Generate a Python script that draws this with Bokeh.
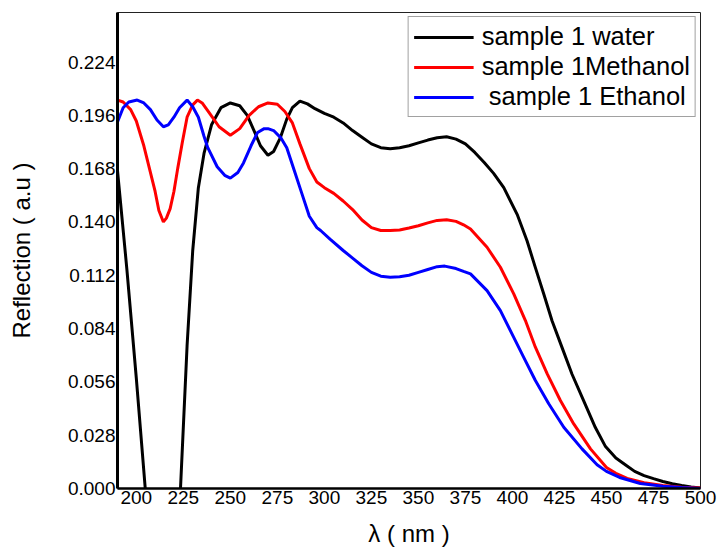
from bokeh.plotting import figure
from bokeh.models import FixedTicker, PrintfTickFormatter, Range1d
from bokeh.embed import file_html
from bokeh.resources import INLINE

# ---- data ----
water_x = [190, 195, 200, 205, 210, 214, 218, 223.5, 227, 230, 233, 236, 240, 245, 250, 255, 259, 263,
           266, 270, 273, 276.5, 280, 283, 287, 291, 295, 300, 305, 310, 315, 320, 325, 330, 335, 340,
           345, 350, 355, 360, 365, 370, 375, 380, 385, 390, 395.4, 402.5, 407.8, 412.2, 416.7, 421.1,
           426.4, 431.7, 437.9, 444.1, 449.5, 455, 460, 465, 470, 475, 480, 485, 490, 495, 500]
water_y = [0.167, 0.115, 0.058, -0.003, -0.07, -0.09, -0.07, 0.000, 0.075, 0.125, 0.158, 0.176, 0.191,
           0.200, 0.2025, 0.201, 0.196, 0.187, 0.180, 0.175, 0.177, 0.184, 0.194, 0.200, 0.2035, 0.202,
           0.1995, 0.197, 0.195, 0.192, 0.188, 0.1845, 0.181, 0.179, 0.1785, 0.179, 0.180, 0.1815, 0.183,
           0.1842, 0.1847, 0.1835, 0.181, 0.1765, 0.1712, 0.1655, 0.158, 0.144, 0.130, 0.116, 0.102, 0.088,
           0.074, 0.060, 0.046, 0.032, 0.022, 0.016, 0.0125, 0.009, 0.0068, 0.0052, 0.0037, 0.0025,
           0.0016, 0.0008, 0.0003]

methanol_x = [190, 193, 197, 200, 204, 207, 210, 212, 214.4, 216, 218, 220, 222, 224.5, 227, 230, 232.5,
              235, 239, 244, 250, 255, 260, 265, 270, 275, 279, 283, 287, 292, 296, 300, 305, 310, 315,
              320, 325, 330, 335, 340, 345, 350, 355, 360, 365, 370, 374, 377.7, 386.5, 393.6, 400.7,
              406.9, 412.2, 418.5, 425.5, 432.6, 441.5, 450, 455, 461, 470, 480, 490, 500]
methanol_y = [0.204, 0.203, 0.199, 0.193, 0.180, 0.168, 0.156, 0.146, 0.140, 0.142, 0.147, 0.156, 0.168,
              0.182, 0.195, 0.2015, 0.204, 0.2025, 0.197, 0.190, 0.1855, 0.189, 0.196, 0.2005, 0.2025,
              0.2018, 0.198, 0.192, 0.181, 0.168, 0.161, 0.158, 0.155, 0.151, 0.1465, 0.141, 0.137,
              0.1355, 0.1355, 0.1358, 0.1368, 0.138, 0.1395, 0.1408, 0.1412, 0.1403, 0.1385, 0.1363,
              0.1267, 0.1162, 0.1022, 0.0882, 0.0742, 0.0602, 0.0462, 0.0339, 0.0208, 0.011, 0.008,
              0.0053, 0.003, 0.0016, 0.0007, 0.0002]

ethanol_x = [190, 193, 196, 200.5, 204, 207.5, 211, 214.4, 217, 220, 223, 227, 230, 233, 236, 238, 243,
             247, 250, 254, 257, 261, 264.5, 268, 270, 273, 277, 280, 284, 288, 292, 296, 298, 303, 310,
             315, 320, 325, 330, 335, 340, 345, 350, 355, 360, 364, 370, 374, 377.7, 386.5, 393.6, 400.7,
             406, 412.2, 419.3, 427.3, 437, 445, 450, 457, 468, 480, 490, 500]
ethanol_y = [0.1925, 0.200, 0.203, 0.204, 0.2025, 0.199, 0.1935, 0.190, 0.191, 0.195, 0.200, 0.204,
             0.2005, 0.195, 0.185, 0.179, 0.169, 0.1645, 0.163, 0.166, 0.171, 0.180, 0.187, 0.189, 0.189,
             0.188, 0.184, 0.179, 0.167, 0.155, 0.143, 0.137, 0.1355, 0.131, 0.125, 0.121, 0.117, 0.1135,
             0.1115, 0.111, 0.1112, 0.112, 0.1135, 0.115, 0.1165, 0.1168, 0.1155, 0.114, 0.1127, 0.1039,
             0.0934, 0.0794, 0.0689, 0.0567, 0.0445, 0.0322, 0.0208, 0.0125, 0.009, 0.0058, 0.0026,
             0.0012, 0.0005, 0.0]

series_labels = ["sample 1 water", "sample 1Methanol", " sample 1 Ethanol"]
series_colors = ["#000000", "#ff0000", "#0000ff"]

x_ticks = [200, 225, 250, 275, 300, 325, 350, 375, 400, 425, 450, 475, 500]
y_ticks = [0.000, 0.028, 0.056, 0.084, 0.112, 0.140, 0.168, 0.196, 0.224]

FONT = "Liberation Sans"

p = figure(width=720, height=550, output_backend="svg", toolbar_location=None,
           x_range=Range1d(190, 500), y_range=Range1d(0, 0.25),
           min_border_left=117, min_border_right=20, min_border_top=12, min_border_bottom=62)

for xs, ys, lab, col in zip([water_x, methanol_x, ethanol_x], [water_y, methanol_y, ethanol_y],
                            series_labels, series_colors):
    p.line(xs, ys, line_color=col, line_width=3, legend_label=lab)

p.xgrid.visible = False
p.ygrid.visible = False
p.background_fill_color = "white"
p.border_fill_color = "white"
p.outline_line_color = "#222222"
p.outline_line_width = 1

p.xaxis.ticker = FixedTicker(ticks=x_ticks)
p.yaxis.ticker = FixedTicker(ticks=y_ticks)
p.yaxis.formatter = PrintfTickFormatter(format="%.3f")

for ax in (p.xaxis, p.yaxis):
    ax.axis_line_color = "black"
    ax.major_tick_in = 0
    ax.major_tick_out = 0
    ax.minor_tick_in = 0
    ax.minor_tick_out = 0
    ax.major_label_text_font = FONT
    ax.major_label_text_font_size = "19px"
    ax.major_label_text_color = "black"
    ax.major_label_standoff = 2
    ax.axis_label_text_font = FONT
    ax.axis_label_text_font_size = "24px"
    ax.axis_label_text_font_style = "normal"
    ax.axis_label_text_color = "black"

p.yaxis.axis_line_width = 3
p.xaxis.axis_line_width = 2.5
p.xaxis.axis_label = "λ ( nm )"
p.yaxis.axis_label = "Reflection ( a.u )"
p.xaxis.axis_label_standoff = 13
p.yaxis.axis_label_standoff = 30

lg = p.legend[0]
lg.location = "top_right"
lg.margin = 4
lg.padding = 5
lg.spacing = 1
lg.glyph_width = 60
lg.glyph_height = 24
lg.label_height = 24
lg.label_standoff = 8
lg.label_text_line_height = 1.0
lg.label_text_font = FONT
lg.label_text_font_size = "25.5px"
lg.label_text_color = "black"
lg.border_line_color = "#444444"
lg.border_line_width = 1
lg.background_fill_alpha = 1.0

open("out.html", "w").write(file_html(p, INLINE))
